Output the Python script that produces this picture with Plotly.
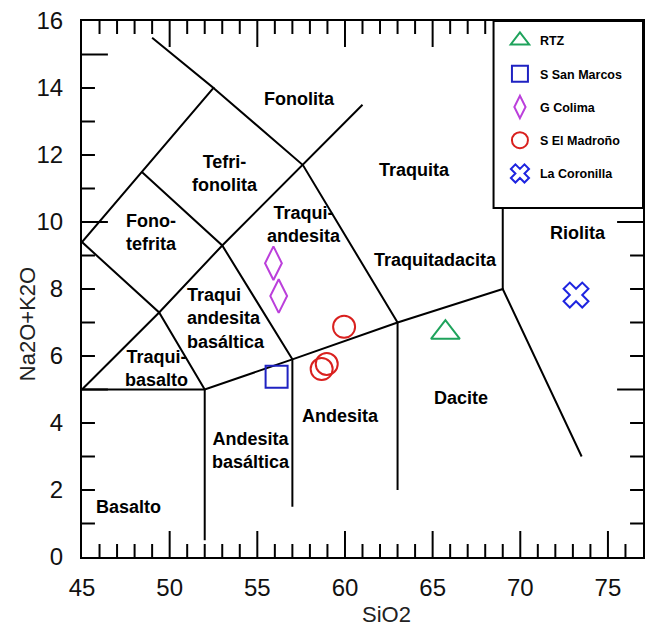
import plotly.graph_objects as go

# ---------------- data ----------------
# TAS boundary polylines (SiO2, Na2O+K2O); None separates segments
bound_x = [45, 52, 57, 63, 69, 73.5, None,
           52, 52, None,
           57, 57, None,
           63, 63, None,
           45, 49.4, 53, 57.6, 61, None,
           45, 49.4, 52, None,
           45, 48.4, 52.5, 49, None,
           48.4, 53, 57, None,
           52.5, 57.6, 63, None,
           69, 69]
bound_y = [5, 5, 5.9, 7, 8, 3, None,
           0.5, 5, None,
           1.5, 5.9, None,
           2, 7, None,
           5, 7.3, 9.3, 11.7, 13.5, None,
           9.4, 7.3, 5, None,
           9.4, 11.5, 14, 15.5, None,
           11.5, 9.3, 5.9, None,
           14, 11.7, 7, None,
           8, 13]

rtz_x = [65.73]
rtz_y = [6.70]
sanmarcos_x = [56.10]
sanmarcos_y = [5.38]
colima_x = [55.92, 56.22]
colima_y = [8.77, 7.79]
madrono_x = [59.95, 58.67, 58.96]
madrono_y = [6.87, 5.61, 5.76]
coronilla_x = [73.18]
coronilla_y = [7.82]

# field labels
field_names = ["Fonolita", "Tefri-<br>fonolita", "Fono-<br>tefrita", "Traqui-<br>andesita",
               "Traqui<br>andesita<br>basáltica", "Traqui-<br>basalto", "Traquita",
               "Traquitadacita", "Riolita", "Andesita", "Dacite",
               "Andesita<br>basáltica", "Basalto"]
field_x = [57.39, 53.16, 48.96, 57.68, 53.23, 49.25, 63.99, 65.18, 73.28, 59.74, 66.59, 54.64, 47.67]
field_y = [13.67, 11.46, 9.69, 9.93, 7.13, 5.62, 11.55, 8.87, 9.67, 4.22, 4.74, 3.19, 1.50]
field_align = ["center", "center", "center", "center", "left", "center", "center",
               "center", "center", "center", "center", "center", "center"]

# axis ticks: labels every 5 (x) / every 2 (y); tick marks every unit, long every 5
x_labels = [45, 50, 55, 60, 65, 70, 75]
y_labels = [0, 2, 4, 6, 8, 10, 12, 14, 16]
x_marks = list(range(46, 77))
y_marks = list(range(1, 16))

FONT = "Liberation Sans, Arial, sans-serif"

fig = go.Figure()

fig.add_trace(go.Scatter(x=bound_x, y=bound_y, mode="lines",
                         line=dict(color="black", width=2),
                         showlegend=False, hoverinfo="skip"))

series = [
    ("RTZ", rtz_x, rtz_y, "triangle-up-open", 25, "#1fa35c"),
    ("S San Marcos", sanmarcos_x, sanmarcos_y, "square-open", 22, "#1f22c2"),
    ("G Colima", colima_x, colima_y, "diamond-tall-open", 24, "#bb3fdb"),
    ("S El Madroño", madrono_x, madrono_y, "circle-open", 22, "#d9201e"),
    ("La Coronilla", coronilla_x, coronilla_y, "x-open", 22, "#1e24e0"),
]
for name, xs, ys, sym, sz, col in series:
    fig.add_trace(go.Scatter(x=xs, y=ys, mode="markers", name=name, legendgroup=name,
                             marker=dict(symbol=sym, size=sz, color=col,
                                         line=dict(color=col, width=2))))

for t, x, y, al in zip(field_names, field_x, field_y, field_align):
    fig.add_annotation(x=x, y=y, text="<b>" + t + "</b>", showarrow=False, align=al,
                       font=dict(family=FONT, size=18, color="black"))

fig.add_annotation(xref="paper", yref="paper", x=0.5435, y=-0.108, xanchor="center",
                   yanchor="middle", text="SiO2", showarrow=False,
                   font=dict(family=FONT, size=22, color="#222"))
fig.add_annotation(xref="paper", yref="paper", x=-0.0977, y=0.4347, xanchor="center",
                   yanchor="middle", text="Na2O+K2O", textangle=-90, showarrow=False,
                   font=dict(family=FONT, size=22, color="#222"))

# inward tick marks on all four sides (short every unit, long every 5)
PW, PH = 563, 536
TICK = dict(color="black", width=2)
for v in x_marks:
    L = (26 if v % 5 == 0 else 13) / PH
    fig.add_shape(type="line", xref="x", yref="paper", x0=v, x1=v, y0=0, y1=L,
                  line=TICK, layer="above")
    fig.add_shape(type="line", xref="x", yref="paper", x0=v, x1=v, y0=1 - L, y1=1,
                  line=TICK, layer="above")
for v in y_marks:
    L = (26 if v % 5 == 0 else 13) / PW
    fig.add_shape(type="line", xref="paper", yref="y", x0=0, x1=L, y0=v, y1=v,
                  line=TICK, layer="above")
    fig.add_shape(type="line", xref="paper", yref="y", x0=1 - L, x1=1, y0=v, y1=v,
                  line=TICK, layer="above")

# legend box
fig.add_shape(type="rect", xref="paper", yref="paper", x0=0.7336, x1=1.0, y0=0.651, y1=1.0,
              line=dict(color="black", width=2), fillcolor="white", layer="above")

axis_common = dict(showline=True, linewidth=2, linecolor="black", mirror=True,
                   ticks="", showgrid=False, zeroline=False,
                   tickfont=dict(family=FONT, size=24, color="#111"))

fig.update_layout(
    width=648, height=628,
    margin=dict(l=82, r=3, t=21, b=71),
    paper_bgcolor="white", plot_bgcolor="white",
    xaxis=dict(range=[45, 77], tickmode="array", tickvals=x_labels,
               ticklabelstandoff=8, **axis_common),
    yaxis=dict(range=[0, 16], tickmode="array", tickvals=y_labels,
               ticklabelstandoff=12, **axis_common),
    legend=dict(x=0.745, xanchor="left", y=0.991, yanchor="top",
                bgcolor="rgba(0,0,0,0)", borderwidth=0, tracegroupgap=14,
                font=dict(family=FONT, size=12.5, color="black", weight="bold"),
                itemsizing="trace"),
    showlegend=True,
)

fig.write_html("out.html")
